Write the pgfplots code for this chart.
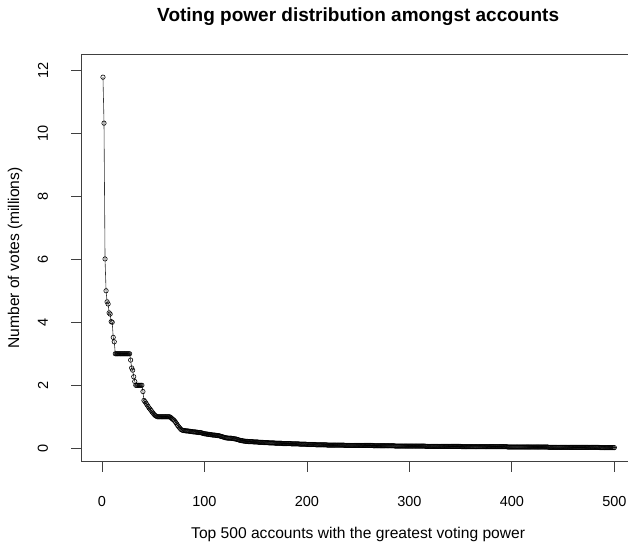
\documentclass[border=0pt]{standalone}
\usepackage{pgfplots}
\pgfplotsset{compat=1.18}
\usepackage{pgfplotstable}
\usepackage{fontspec}
\setmainfont{Liberation Sans}
\pgfplotstableread[row sep=\\]{
y\\
11.78\\ 10.32\\ 6.01\\ 5.00\\ 4.65\\ 4.58\\ 4.30\\ 4.26\\ 4.02\\ 4.00\\
3.52\\ 3.38\\ 3.00\\ 3.00\\ 3.00\\ 3.00\\ 3.00\\ 3.00\\ 3.00\\ 3.00\\
3.00\\ 3.00\\ 3.00\\ 3.00\\ 3.00\\ 3.00\\ 3.00\\ 2.80\\ 2.55\\ 2.48\\
2.27\\ 2.12\\ 2.00\\ 2.00\\ 2.00\\ 2.00\\ 2.00\\ 2.00\\ 2.00\\ 1.80\\
1.52\\ 1.48\\ 1.43\\ 1.38\\ 1.33\\ 1.28\\ 1.24\\ 1.20\\ 1.15\\ 1.11\\
1.07\\ 1.04\\ 1.02\\ 1.00\\ 1.00\\ 1.00\\ 1.00\\ 1.00\\ 1.00\\ 1.00\\
1.00\\ 1.00\\ 1.00\\ 1.00\\ 1.00\\ 1.00\\ 0.98\\ 0.95\\ 0.92\\ 0.90\\
0.86\\ 0.82\\ 0.77\\ 0.72\\ 0.68\\ 0.64\\ 0.60\\ 0.58\\ 0.57\\ 0.56\\
0.56\\ 0.55\\ 0.55\\ 0.55\\ 0.54\\ 0.54\\ 0.53\\ 0.53\\ 0.52\\ 0.52\\
0.52\\ 0.51\\ 0.51\\ 0.50\\ 0.50\\ 0.50\\ 0.49\\ 0.48\\ 0.47\\ 0.46\\
0.46\\ 0.45\\ 0.45\\ 0.44\\ 0.44\\ 0.43\\ 0.43\\ 0.42\\ 0.42\\ 0.42\\
0.41\\ 0.41\\ 0.40\\ 0.40\\ 0.39\\ 0.38\\ 0.37\\ 0.36\\ 0.35\\ 0.34\\
0.33\\ 0.33\\ 0.32\\ 0.32\\ 0.32\\ 0.32\\ 0.31\\ 0.31\\ 0.30\\ 0.30\\
0.29\\ 0.28\\ 0.27\\ 0.26\\ 0.25\\ 0.24\\ 0.24\\ 0.23\\ 0.23\\ 0.22\\
0.22\\ 0.22\\ 0.21\\ 0.21\\ 0.21\\ 0.21\\ 0.21\\ 0.20\\ 0.20\\ 0.20\\
0.20\\ 0.20\\ 0.19\\ 0.19\\ 0.19\\ 0.19\\ 0.19\\ 0.18\\ 0.18\\ 0.18\\
0.18\\ 0.18\\ 0.17\\ 0.17\\ 0.17\\ 0.17\\ 0.17\\ 0.17\\ 0.16\\ 0.16\\
0.16\\ 0.16\\ 0.16\\ 0.16\\ 0.16\\ 0.15\\ 0.15\\ 0.15\\ 0.15\\ 0.15\\
0.15\\ 0.15\\ 0.15\\ 0.15\\ 0.14\\ 0.14\\ 0.14\\ 0.14\\ 0.14\\ 0.14\\
0.14\\ 0.14\\ 0.13\\ 0.13\\ 0.13\\ 0.13\\ 0.13\\ 0.13\\ 0.13\\ 0.12\\
0.12\\ 0.12\\ 0.12\\ 0.12\\ 0.12\\ 0.12\\ 0.12\\ 0.12\\ 0.11\\ 0.11\\
0.11\\ 0.11\\ 0.11\\ 0.11\\ 0.11\\ 0.11\\ 0.11\\ 0.11\\ 0.11\\ 0.10\\
0.10\\ 0.10\\ 0.10\\ 0.10\\ 0.10\\ 0.10\\ 0.10\\ 0.10\\ 0.10\\ 0.10\\
0.10\\ 0.10\\ 0.10\\ 0.10\\ 0.10\\ 0.10\\ 0.09\\ 0.09\\ 0.09\\ 0.09\\
0.09\\ 0.09\\ 0.09\\ 0.09\\ 0.09\\ 0.09\\ 0.09\\ 0.09\\ 0.09\\ 0.09\\
0.09\\ 0.09\\ 0.09\\ 0.09\\ 0.09\\ 0.09\\ 0.09\\ 0.09\\ 0.09\\ 0.09\\
0.09\\ 0.09\\ 0.09\\ 0.09\\ 0.08\\ 0.08\\ 0.08\\ 0.08\\ 0.08\\ 0.08\\
0.08\\ 0.08\\ 0.08\\ 0.08\\ 0.08\\ 0.08\\ 0.08\\ 0.08\\ 0.08\\ 0.08\\
0.08\\ 0.08\\ 0.08\\ 0.08\\ 0.08\\ 0.07\\ 0.07\\ 0.07\\ 0.07\\ 0.07\\
0.07\\ 0.07\\ 0.07\\ 0.07\\ 0.07\\ 0.07\\ 0.07\\ 0.07\\ 0.07\\ 0.07\\
0.07\\ 0.07\\ 0.07\\ 0.07\\ 0.07\\ 0.07\\ 0.07\\ 0.07\\ 0.07\\ 0.07\\
0.07\\ 0.07\\ 0.07\\ 0.07\\ 0.07\\ 0.06\\ 0.06\\ 0.06\\ 0.06\\ 0.06\\
0.06\\ 0.06\\ 0.06\\ 0.06\\ 0.06\\ 0.06\\ 0.06\\ 0.06\\ 0.06\\ 0.06\\
0.06\\ 0.06\\ 0.06\\ 0.06\\ 0.06\\ 0.06\\ 0.06\\ 0.06\\ 0.06\\ 0.06\\
0.06\\ 0.06\\ 0.06\\ 0.06\\ 0.06\\ 0.06\\ 0.06\\ 0.06\\ 0.06\\ 0.06\\
0.05\\ 0.05\\ 0.05\\ 0.05\\ 0.05\\ 0.05\\ 0.05\\ 0.05\\ 0.05\\ 0.05\\
0.05\\ 0.05\\ 0.05\\ 0.05\\ 0.05\\ 0.05\\ 0.05\\ 0.05\\ 0.05\\ 0.05\\
0.05\\ 0.05\\ 0.05\\ 0.05\\ 0.05\\ 0.05\\ 0.05\\ 0.05\\ 0.05\\ 0.05\\
0.05\\ 0.05\\ 0.05\\ 0.05\\ 0.05\\ 0.05\\ 0.05\\ 0.05\\ 0.05\\ 0.05\\
0.05\\ 0.05\\ 0.05\\ 0.05\\ 0.05\\ 0.04\\ 0.04\\ 0.04\\ 0.04\\ 0.04\\
0.04\\ 0.04\\ 0.04\\ 0.04\\ 0.04\\ 0.04\\ 0.04\\ 0.04\\ 0.04\\ 0.04\\
0.04\\ 0.04\\ 0.04\\ 0.04\\ 0.04\\ 0.04\\ 0.04\\ 0.04\\ 0.04\\ 0.04\\
0.04\\ 0.04\\ 0.04\\ 0.04\\ 0.04\\ 0.04\\ 0.04\\ 0.04\\ 0.04\\ 0.04\\
0.04\\ 0.04\\ 0.04\\ 0.04\\ 0.04\\ 0.03\\ 0.03\\ 0.03\\ 0.03\\ 0.03\\
0.03\\ 0.03\\ 0.03\\ 0.03\\ 0.03\\ 0.03\\ 0.03\\ 0.03\\ 0.03\\ 0.03\\
0.03\\ 0.03\\ 0.03\\ 0.03\\ 0.03\\ 0.03\\ 0.03\\ 0.03\\ 0.03\\ 0.03\\
0.03\\ 0.03\\ 0.03\\ 0.03\\ 0.03\\ 0.03\\ 0.03\\ 0.03\\ 0.03\\ 0.03\\
0.03\\ 0.03\\ 0.03\\ 0.03\\ 0.03\\ 0.03\\ 0.03\\ 0.03\\ 0.03\\ 0.03\\
0.03\\ 0.03\\ 0.03\\ 0.03\\ 0.03\\ 0.02\\ 0.02\\ 0.02\\ 0.02\\ 0.02\\
0.02\\ 0.02\\ 0.02\\ 0.02\\ 0.02\\ 0.02\\ 0.02\\ 0.02\\ 0.02\\ 0.02\\
}\votes
\begin{document}
\begin{tikzpicture}
\useasboundingbox (0,0) rectangle (628pt,546pt);
\begin{axis}[
  scale only axis,
  anchor=south west,
  at={(81.5pt,84.5pt)},
  width=553.3pt, height=407pt,
  xmin=-19.96, xmax=519.96,
  ymin=-0.42, ymax=12.5,
  xtick={0,100,200,300,400,500},
  ytick={0,2,4,6,8,10,12},
  xtick pos=left, ytick pos=left,
  tick align=outside,
  major tick length=10pt,
  tick style={line width=0.8pt, color=black!75},
  axis line style={line width=0.8pt, color=black!75},
  /pgf/number format/assume math mode=true,
  ticklabel style={font=\fontsize{14.5}{17}\selectfont},
  yticklabel style={rotate=90, anchor=center, yshift=28.5pt},
  xticklabel style={anchor=center, yshift=-30pt},
  xlabel={Top 500 accounts with the greatest voting power},
  ylabel={Number of votes (millions)},
  title={Voting power distribution amongst accounts},
  label style={font=\fontsize{15.6}{18}\selectfont},
  xlabel style={at={(axis description cs:0.5,0)}, anchor=center, yshift=-73pt},
  ylabel style={at={(axis description cs:0,0.5)}, anchor=center, rotate=0, yshift=66.5pt},
  title style={at={(axis description cs:0.5,1)}, anchor=center, yshift=31.5pt, font=\fontsize{19}{22}\selectfont\bfseries},
]
\addplot[black!80, line width=0.6pt, no marks] table[x expr=\coordindex+1, y=y] {\votes};
\addplot[only marks, mark=o, mark size=2.2pt, mark options={line width=0.6pt, fill=white, draw=black}, skip coords between index={12}{500}] table[x expr=\coordindex+1, y=y] {\votes};
\addplot[only marks, mark=o, mark size=2.2pt, mark options={line width=0.6pt, fill=none, draw=black}, skip coords between index={0}{12}] table[x expr=\coordindex+1, y=y] {\votes};
\end{axis}
\end{tikzpicture}
\end{document}
